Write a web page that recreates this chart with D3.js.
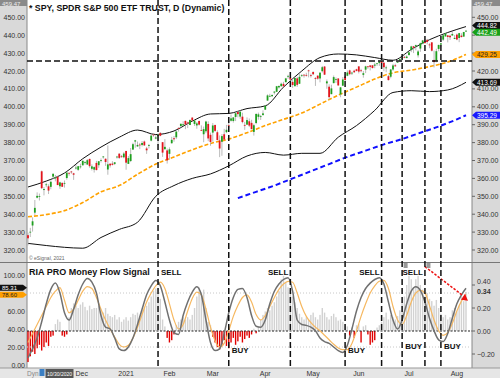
<!DOCTYPE html>
<html>
<head>
<meta charset="utf-8">
<script src="https://cdnjs.cloudflare.com/ajax/libs/d3/7.8.5/d3.min.js"></script>
<style>
body { margin: 0; background: #fff; }
svg { display: block; font-family: "Liberation Sans", Arial, sans-serif; }
</style>
</head>
<body>
<div id="chart"></div>
<script>
// daily SPY candles: date, open, high, low, close
const candles = [
["2020-10-30",328.28,329.69,322.60,326.54],["2020-11-02",330.20,332.36,327.24,330.20],["2020-11-03",333.69,338.25,330.29,336.03],
["2020-11-04",340.86,347.94,339.59,343.54],["2020-11-05",349.24,352.19,348.86,350.24],["2020-11-06",349.93,351.51,347.65,350.16],
["2020-11-09",363.97,364.38,354.06,354.56],["2020-11-10",353.49,355.18,350.51,354.04],["2020-11-11",356.40,357.56,355.06,356.67],
["2020-11-12",355.58,356.72,351.26,353.21],["2020-11-13",355.27,358.90,353.93,358.10],["2020-11-16",360.98,362.78,359.59,362.57],
["2020-11-17",359.97,361.92,358.34,360.62],["2020-11-18",360.91,361.50,356.24,356.28],["2020-11-19",355.60,358.18,354.15,357.78],
["2020-11-20",357.50,357.72,355.25,355.33],["2020-11-23",357.28,358.82,354.87,357.46],["2020-11-24",360.21,363.81,359.29,363.22],
["2020-11-25",363.13,363.16,361.48,362.66],["2020-11-27",363.84,364.18,362.58,363.67],["2020-11-30",362.83,363.12,359.17,362.06],
["2020-12-01",365.57,367.68,364.93,366.02],["2020-12-02",364.82,366.96,364.20,366.79],["2020-12-03",366.68,368.19,365.50,366.69],
["2020-12-04",367.32,369.85,367.22,369.85],["2020-12-07",369.02,369.62,367.72,369.09],["2020-12-08",367.72,370.78,367.67,370.17],
["2020-12-09",370.88,371.05,365.95,366.85],["2020-12-10",365.37,367.86,364.43,366.73],["2020-12-11",364.90,366.74,363.26,366.30],
["2020-12-14",368.64,369.80,364.47,364.66],["2020-12-15",367.40,369.59,365.92,369.59],["2020-12-16",369.82,371.16,368.87,370.17],
["2020-12-17",371.94,372.46,371.05,372.24],["2020-12-18",370.97,371.15,367.02,369.18],["2020-12-21",364.97,378.46,362.03,367.86],
["2020-12-22",368.21,368.33,366.03,367.24],["2020-12-23",368.28,369.62,367.22,367.57],["2020-12-24",368.08,369.03,367.45,369.00],
["2020-12-28",371.74,372.59,371.07,372.17],["2020-12-29",373.81,374.00,370.83,371.46],["2020-12-30",372.34,373.10,371.57,371.99],
["2020-12-31",371.78,374.66,371.23,373.88],["2021-01-04",375.31,375.45,364.82,368.79],["2021-01-05",368.10,372.50,368.05,371.33],
["2021-01-06",369.71,376.98,369.12,373.55],["2021-01-07",376.10,379.90,375.91,379.10],["2021-01-08",380.59,381.49,377.10,381.26],
["2021-01-11",377.85,380.58,377.72,378.69],["2021-01-12",378.89,379.86,376.36,378.77],["2021-01-13",378.69,380.86,377.85,379.79],
["2021-01-14",380.59,381.13,378.10,378.46],["2021-01-15",376.72,377.58,373.70,375.70],["2021-01-19",378.34,379.23,376.75,378.65],
["2021-01-20",381.11,384.79,380.69,383.89],["2021-01-21",384.49,384.95,383.25,384.24],["2021-01-22",382.25,384.13,381.84,382.88],
["2021-01-25",383.67,384.77,378.46,384.39],["2021-01-26",385.41,385.85,383.54,383.79],["2021-01-27",380.22,380.32,372.01,374.41],
["2021-01-28",376.36,381.93,375.89,377.63],["2021-01-29",375.63,376.67,368.27,370.07],["2021-02-01",373.72,377.34,370.38,376.23],
["2021-02-02",379.65,383.22,379.43,381.55],["2021-02-03",382.44,383.70,380.48,381.85],["2021-02-04",382.96,386.24,381.97,386.19],
["2021-02-05",388.20,388.47,386.14,387.71],["2021-02-08",389.27,390.56,388.35,390.51],["2021-02-09",389.61,391.89,389.42,390.25],
["2021-02-10",392.12,392.28,387.50,390.08],["2021-02-11",391.24,391.69,388.10,390.71],["2021-02-12",389.85,392.90,389.77,392.64],
["2021-02-16",393.96,394.17,391.53,392.30],["2021-02-17",390.42,392.66,389.33,392.39],["2021-02-18",389.59,391.52,387.74,390.72],
["2021-02-19",392.07,392.38,389.55,390.03],["2021-02-22",387.06,389.62,386.74,387.03],["2021-02-23",384.66,388.95,380.20,387.50],
["2021-02-24",386.33,392.23,385.27,391.77],["2021-02-25",390.41,391.88,380.78,382.33],["2021-02-26",384.35,385.58,378.23,380.36],
["2021-03-01",385.59,390.92,380.57,389.58],["2021-03-02",389.82,390.07,386.00,386.54],["2021-03-03",385.79,386.83,381.31,381.42],
["2021-03-04",381.22,384.00,371.88,376.70],["2021-03-05",380.46,384.76,372.64,383.63],["2021-03-08",384.66,387.68,381.42,381.72],
["2021-03-09",385.85,389.91,385.31,387.17],["2021-03-10",389.69,391.40,388.17,389.58],["2021-03-11",392.23,395.65,391.74,393.53],
["2021-03-12",392.07,394.21,391.20,394.06],["2021-03-15",394.33,396.69,392.03,396.41],["2021-03-16",397.07,397.83,394.11,395.91],
["2021-03-17",394.53,398.12,393.30,397.26],["2021-03-18",394.48,396.72,390.75,391.48],["2021-03-19",389.88,391.57,387.15,389.48],
["2021-03-22",390.03,394.07,389.97,392.59],["2021-03-23",391.91,393.46,388.66,389.50],["2021-03-24",391.00,392.75,387.47,387.52],
["2021-03-25",385.98,390.55,383.90,389.70],["2021-03-26",390.93,396.41,390.29,395.98],["2021-03-29",394.40,396.75,392.81,395.78],
["2021-03-30",394.42,395.45,392.65,394.73],["2021-03-31",395.34,398.00,395.31,396.33],["2021-04-01",398.40,400.67,398.18,400.61],
["2021-04-05",403.46,406.94,403.38,406.36],["2021-04-06",405.76,407.24,405.40,406.12],["2021-04-07",405.94,406.96,405.45,406.59],
["2021-04-08",407.93,408.58,406.93,408.52],["2021-04-09",408.39,411.67,408.26,411.49],["2021-04-12",410.85,411.93,410.20,411.64],
["2021-04-13",411.53,413.53,411.12,412.86],["2021-04-14",412.83,413.96,410.87,411.45],["2021-04-15",413.74,416.16,413.69,415.87],
["2021-04-16",417.25,417.91,415.73,417.26],["2021-04-19",416.26,416.74,413.79,415.21],["2021-04-20",413.91,415.09,410.59,412.17],
["2021-04-21",411.51,416.29,411.36,416.07],["2021-04-22",415.89,416.78,411.13,412.27],["2021-04-23",412.87,418.25,412.79,416.74],
["2021-04-26",417.44,418.22,416.81,417.61],["2021-04-27",417.93,418.14,416.30,417.52],["2021-04-28",417.81,419.01,416.90,417.40],
["2021-04-29",420.32,420.72,416.44,420.06],["2021-04-30",417.63,418.54,416.34,417.30],["2021-05-03",419.43,419.84,417.67,418.20],
["2021-05-04",416.07,416.60,411.67,415.62],["2021-05-05",417.38,417.63,415.15,415.75],["2021-05-06",415.83,419.21,413.68,419.07],
["2021-05-07",419.89,422.82,419.16,422.12],["2021-05-10",422.50,422.74,417.81,417.94],["2021-05-11",413.10,415.27,410.06,414.21],
["2021-05-12",411.23,412.59,404.00,405.41],["2021-05-13",407.07,412.35,407.02,410.28],["2021-05-14",413.21,417.49,413.18,416.58],
["2021-05-17",415.39,416.39,413.36,415.52],["2021-05-18",415.80,416.06,411.77,411.94],["2021-05-19",406.92,411.05,405.33,410.86],
["2021-05-20",411.80,416.63,411.67,415.28],["2021-05-21",416.87,418.20,414.45,414.94],["2021-05-24",417.34,420.32,417.08,419.17],
["2021-05-25",420.33,420.71,417.62,418.24],["2021-05-26",418.87,419.61,417.76,419.07],["2021-05-27",420.17,420.72,418.99,419.29],
["2021-05-28",420.97,421.25,419.79,420.04],["2021-06-01",422.57,422.72,418.63,419.67],["2021-06-02",420.37,421.23,419.29,420.33],
["2021-06-03",417.85,419.99,416.28,418.77],["2021-06-04",420.75,422.92,418.84,422.60],["2021-06-07",422.59,422.78,421.19,422.19],
["2021-06-08",423.11,423.21,420.32,422.28],["2021-06-09",423.18,423.26,421.41,421.65],["2021-06-10",422.96,424.63,421.55,423.61],
["2021-06-11",424.20,424.43,422.82,424.31],["2021-06-14",424.43,425.37,422.82,425.26],["2021-06-15",425.42,425.46,423.54,424.48],
["2021-06-16",424.63,424.87,419.92,422.11],["2021-06-17",421.67,423.02,419.32,421.97],["2021-06-18",417.09,417.83,414.70,414.92],
["2021-06-21",416.80,421.06,415.93,420.86],["2021-06-22",420.85,424.00,420.08,423.11],["2021-06-23",423.19,424.05,422.51,422.60],
["2021-06-24",424.89,425.55,424.62,425.10],["2021-06-25",425.90,427.09,425.55,426.61],["2021-06-28",427.17,427.65,425.89,427.47],
["2021-06-29",427.88,428.56,427.13,427.70],["2021-06-30",427.21,428.78,427.18,428.06],["2021-07-01",428.87,430.60,428.80,430.43],
["2021-07-02",431.67,434.10,430.52,433.72],["2021-07-06",433.78,434.01,430.01,432.93],["2021-07-07",433.66,434.76,431.51,434.46],
["2021-07-08",428.78,431.73,427.52,430.92],["2021-07-09",432.53,435.84,430.71,435.52],["2021-07-12",435.43,437.35,434.97,437.08],
["2021-07-13",436.24,437.84,435.31,435.59],["2021-07-14",437.40,437.92,434.91,436.24],["2021-07-15",434.81,435.53,432.72,434.75],
["2021-07-16",436.01,436.06,430.92,431.34],["2021-07-19",426.19,431.41,421.97,424.97],["2021-07-20",425.68,432.42,424.83,431.06],
["2021-07-21",432.34,434.70,431.01,434.55],["2021-07-22",434.74,435.72,433.69,435.46],["2021-07-23",437.52,440.30,436.79,439.94],
["2021-07-26",439.31,441.03,439.26,441.02],["2021-07-27",439.91,439.94,435.99,439.01],["2021-07-28",439.68,440.30,437.31,438.83],
["2021-07-29",439.82,441.80,439.81,440.65],["2021-07-30",437.91,440.06,437.77,438.51],["2021-08-02",440.34,440.93,437.21,437.59],
["2021-08-03",438.44,441.28,436.10,441.15],["2021-08-04",439.78,441.12,438.73,438.98],["2021-08-05",439.23,441.85,439.06,441.76],
["2021-08-06",442.10,442.94,441.80,442.49]
];

// Bollinger bands and moving averages at every 8th bar
const bandIdx = [0,8,16,24,32,40,48,56,64,72,80,88,96,104,112,120,128,136,144,152,160,168,176,184,192];
const upperBand = [355.2,358.5,363,371,377.5,383,387,384.5,386.5,392,396,396.3,399,400.5,411,420,427.5,429.5,429,427.5,426,432,437.5,441.5,444.82];
const lowerBand = [323.7,322.5,321.5,321,327,331.5,335.5,350,356,360,362.5,367,372.5,374.5,373,374,374,383,389.5,398,408,409,408.5,409.4,413.69];
const ma50 = [338.6,339.8,342,346.5,352.5,356,362.3,368,372,376,379.5,382,385.5,389.5,393,396.5,401.5,406.5,411,415.5,419,420.5,422.5,425,429.25];
const ma200Idx = [92,100,108,116,124,132,140,148,156,164,172,180,188,192];
const ma200 = [349,352.5,356,360,364,368,372,375.5,379,382,385.5,389,393,395.29];
const levelLine = 425.6;

// Money flow oscillator, every 2nd bar
const flowLine = [8,18,30,48,68,84,91,80,58,50,62,78,90,96,92,80,55,42,40,30,18,16,20,30,45,62,78,88,94,88,70,50,36,34,55,70,81,87,78,50,25,16,18,35,58,75,84,85,75,55,43,42,50,68,82,90,95,97,82,50,45,44,42,38,30,26,24,20,16,14,22,40,60,75,85,91,95,97,90,70,50,40,50,68,82,87,83,70,52,38,28,26,35,52,68,78,85.31];
const flowSignal = [25,35,45,55,65,75,82,86,72,58,62,72,82,87,85,75,62,50,40,31,23,20,22,30,42,56,70,80,88,92,85,68,50,40,45,60,74,81,78,62,42,27,20,24,38,54,66,75,78,70,56,50,55,65,75,84,90,93,92,80,65,54,47,42,38,33,28,23,19,17,17,24,38,54,68,80,88,93,94,85,65,50,45,55,70,80,83,80,66,50,38,33,36,46,60,71,78.6];
// histogram, one value per bar
const flowHist = [
-0.27,-0.22,-0.18,-0.2,-0.15,-0.12,-0.17,-0.14,-0.1,-0.13,-0.05,-0.04,
0.06,0.1,0.08,-0.04,-0.05,-0.03,
0.12,0.2,0.24,0.22,0.2,0.23,0.25,0.21,0.18,0.22,0.19,0.2,
0.2,0.22,0.18,0.16,0.2,0.15,0.13,0.12,0.14,0.1,0.12,0.08,0.1,0.12,0.09,
0.12,0.15,0.14,0.16,0.13,0.18,0.2,0.22,0.25,0.3,0.35,0.37,
0.33,0.28,0.1,0.04,
-0.06,-0.1,-0.08,-0.03,
0.05,0.08,0.1,0.12,0.1,0.12,0.1,0.14,0.2,0.3,0.38,0.33,0.36,0.2,0.08,0.05,
-0.05,-0.1,-0.14,-0.16,-0.12,-0.08,-0.13,-0.15,-0.1,-0.06,-0.12,-0.09,-0.05,-0.1,-0.07,-0.04,-0.06,
-0.03,0.02,-0.02,0.04,
0.1,0.14,0.17,0.2,0.18,0.22,0.25,0.3,0.35,0.45,0.48,0.42,0.38,0.36,0.3,0.25,0.2,0.15,0.12,0.1,0.12,
0.1,0.14,0.16,0.12,0.1,0.14,0.2,0.16,0.12,0.1,0.13,0.15,0.12,0.09,0.1,0.08,0.06,0.04,
-0.04,0.03,-0.06,0.05,0.06,-0.1,0.04,0.05,-0.03,-0.12,-0.1,-0.08,0.03,
0.05,0.08,0.12,0.16,0.1,0.14,0.12,0.1,0.13,
0.18,0.25,0.3,0.4,0.48,0.45,0.38,0.45,0.48,0.4,0.36,0.3,0.33,0.28,0.26,0.22,0.27,
0.2,0.15,0.12,0.14,0.1,0.12,0.18,0.2,0.17,0.22,0.3,0.26,0.34
];

const signals = [
["2021-01-25","SELL"],["2021-03-10","BUY"],["2021-04-19","SELL"],["2021-05-21","BUY"],
["2021-06-15","SELL"],["2021-06-28","BUY"],["2021-07-13","SELL"],["2021-07-22","BUY"]
];
const monthTicks = [["Dec","2020-12-01"],["2021","2021-01-04"],["Feb","2021-02-01"],["Mar","2021-03-01"],
["Apr","2021-04-01"],["May","2021-05-03"],["Jun","2021-06-01"],["Jul","2021-07-01"],["Aug","2021-08-02"]];
const priceTicks = [320,330,340,350,360,370,380,390,400,410,420,430,440,450];
const flowTicks = [0,20,40,60,80,100];
const histTicks = [-0.2,0,0.2,0.4];
const trendArrow = [["2021-07-13",0.56],["2021-08-06",0.29]];

const W = 500, H = 378;
const L = 27, R = 472;
const fmt = d3.format(".2f");
const dateIdx = new Map(candles.map((d, i) => [d[0], i]));

const svg = d3.select("#chart").append("svg").attr("width", W).attr("height", H);

const x = d3.scaleLinear().domain([0, candles.length - 1]).range([28, 466]);
const y = d3.scaleLinear().domain([320, 450]).range([250, 17.3]);
const yF = d3.scaleLinear().domain([0, 100]).range([365, 275]);
const yH = d3.scaleLinear().domain([-0.2, 0.4]).range([354, 285]);

// backgrounds
svg.append("rect").attr("width", W).attr("height", H).attr("fill", "#fff");
svg.append("rect").attr("x", 0).attr("y", 0).attr("width", L).attr("height", 368).attr("fill", "#d9d9d9");
svg.append("rect").attr("x", R).attr("y", 0).attr("width", W - R).attr("height", 368).attr("fill", "#d9d9d9");
svg.append("rect").attr("x", 0).attr("y", 368).attr("width", W).attr("height", 10).attr("fill", "#e6e6e6");
svg.append("line").attr("x1", L).attr("x2", L).attr("y1", 0).attr("y2", 368).attr("stroke", "#888");
svg.append("line").attr("x1", R).attr("x2", R).attr("y1", 0).attr("y2", 368).attr("stroke", "#888");
svg.append("line").attr("x1", 0).attr("x2", W).attr("y1", 262.5).attr("y2", 262.5).attr("stroke", "#777");
svg.append("line").attr("x1", 0).attr("x2", W).attr("y1", 368).attr("y2", 368).attr("stroke", "#999");

// bands and averages
const bandLine = d3.line().x(d => x(d[0])).y(d => y(d[1])).curve(d3.curveMonotoneX);
svg.append("path").attr("d", bandLine(bandIdx.map((i, k) => [i, upperBand[k]])))
    .attr("fill", "none").attr("stroke", "#111").attr("stroke-width", 1);
svg.append("path").attr("d", bandLine(bandIdx.map((i, k) => [i, lowerBand[k]])))
    .attr("fill", "none").attr("stroke", "#111").attr("stroke-width", 1);
svg.append("path").attr("d", bandLine(bandIdx.map((i, k) => [i, ma50[k]])))
    .attr("fill", "none").attr("stroke", "#ffa200").attr("stroke-width", 1.6).attr("stroke-dasharray", "4,2");
svg.append("path").attr("d", bandLine(ma200Idx.map((i, k) => [i, ma200[k]])))
    .attr("fill", "none").attr("stroke", "#1010ff").attr("stroke-width", 2).attr("stroke-dasharray", "5,3");

// candles
const cg = svg.append("g");
cg.selectAll("line").data(candles).join("line")
    .attr("x1", (d, i) => x(i)).attr("x2", (d, i) => x(i))
    .attr("y1", d => y(d[2])).attr("y2", d => y(d[3]))
    .attr("stroke", "#a8a8a8").attr("stroke-width", 0.8);
cg.selectAll("rect").data(candles).join("rect")
    .attr("x", (d, i) => x(i) - 0.9).attr("width", 1.8)
    .attr("y", d => y(Math.max(d[1], d[4])))
    .attr("height", d => Math.max(0.8, Math.abs(y(d[1]) - y(d[4]))))
    .attr("fill", d => d[4] >= d[1] ? "#1ea01e" : "#e4141c");

// money flow panel
const hw = 1.4;
svg.append("g").selectAll("rect").data(flowHist).join("rect")
    .attr("x", (d, i) => x(i) - hw / 2).attr("width", hw)
    .attr("y", d => Math.min(yH(d), yH(0)))
    .attr("height", d => Math.abs(yH(d) - yH(0)))
    .attr("fill", d => d < 0 ? "#e00000" : "#d2d2d2");
[80, 20].forEach(v => svg.append("line").attr("x1", L).attr("x2", R).attr("y1", yF(v)).attr("y2", yF(v))
    .attr("stroke", "#c8c8c8").attr("stroke-dasharray", "1,2"));
svg.append("line").attr("x1", L).attr("x2", R).attr("y1", yH(0)).attr("y2", yH(0))
    .attr("stroke", "#222").attr("stroke-width", 1.2).attr("stroke-dasharray", "2,1.5");

const oscLine = d3.line().x((d, k) => x(k * 2)).y(d => yF(d)).curve(d3.curveMonotoneX);
svg.append("path").attr("d", oscLine(flowSignal)).attr("fill", "none").attr("stroke", "#f6b860").attr("stroke-width", 1.2);
svg.append("path").attr("d", oscLine(flowLine)).attr("fill", "none").attr("stroke", "#707070").attr("stroke-width", 1.5);

// trend arrow
const a0 = [x(dateIdx.get(trendArrow[0][0])), yH(trendArrow[0][1])];
const a1 = [x(dateIdx.get(trendArrow[1][0])), yH(trendArrow[1][1])];
svg.append("line").attr("x1", a0[0]).attr("y1", a0[1]).attr("x2", a1[0] - 3).attr("y2", a1[1] - 2)
    .attr("stroke", "#ee1111").attr("stroke-width", 1.5).attr("stroke-dasharray", "2.5,1.5");
svg.append("path").attr("d", `M${a1[0] + 2},${a1[1] + 3} L${a1[0] - 5},${a1[1] + 2} L${a1[0] - 1},${a1[1] - 4} Z`).attr("fill", "#ee1111");

// level line and signal lines
svg.append("line").attr("x1", L).attr("x2", R).attr("y1", y(levelLine)).attr("y2", y(levelLine))
    .attr("stroke", "#111").attr("stroke-width", 1.5).attr("stroke-dasharray", "6,3");
const sg = svg.append("g");
signals.forEach((s, k) => {
    const sx = x(dateIdx.get(s[0]));
    sg.append("line").attr("x1", sx).attr("x2", sx).attr("y1", 0).attr("y2", 368)
        .attr("stroke", "#111").attr("stroke-width", 1.5).attr("stroke-dasharray", "6,3");
    const left = s[1] === "SELL" && k > 0;
    const ty = s[1] === "SELL" ? 275 : (k < 4 ? 353 : 349);
    sg.append("text").attr("x", left ? sx - 2 : sx + 3).attr("y", ty)
        .attr("text-anchor", left ? "end" : "start")
        .attr("font-size", 8).attr("font-weight", "bold").attr("fill", "#111").text(s[1]);
    if (k === 5 || k === 6) {
        sg.append("rect").attr("x", sx + 1.5).attr("y", 263).attr("width", 4).attr("height", 5).attr("fill", "#999");
    }
});

// value markers (drawn after the axes; axis labels they would cover are left out)
const last = candles[candles.length - 1];
const rightMarks = [
    [y(upperBand[upperBand.length - 1]) - 1, upperBand[upperBand.length - 1], "#111", "#fff"],
    [y(last[4]) + 1.5, last[4], "#18a018", "#fff"],
    [y(ma50[ma50.length - 1]), ma50[ma50.length - 1], "#ff9f00", "#222"],
    [y(lowerBand[lowerBand.length - 1]), lowerBand[lowerBand.length - 1], "#111", "#fff"],
    [y(ma200[ma200.length - 1]), ma200[ma200.length - 1], "#1a1aff", "#fff"]
];
const leftMarks = [
    [yF(flowLine[flowLine.length - 1]) - 0.5, flowLine[flowLine.length - 1], "#111", "#fff"],
    [yF(flowSignal[flowSignal.length - 1]) + 0.5, flowSignal[flowSignal.length - 1], "#ff9f00", "#222"]
];
const clear = (marks, yy) => marks.every(m => Math.abs(m[0] - yy) > 5.5);

// price axes
const axisText = (g, xx, yy, t, anchor) => g.append("text").attr("x", xx).attr("y", yy + 2.5)
    .attr("text-anchor", anchor).attr("font-size", 7).attr("fill", "#333").text(t);
const ax = svg.append("g");
priceTicks.forEach(v => {
    axisText(ax, 25, y(v), fmt(v), "end");
    ax.append("line").attr("x1", R).attr("x2", R + 3).attr("y1", y(v)).attr("y2", y(v)).attr("stroke", "#666");
    if (clear(rightMarks, y(v))) axisText(ax, 477, y(v), fmt(v), "start");
});
flowTicks.forEach(v => { if (clear(leftMarks, yF(v))) axisText(ax, 25, yF(v), fmt(v), "end"); });
histTicks.forEach(v => {
    ax.append("line").attr("x1", R).attr("x2", R + 3).attr("y1", yH(v)).attr("y2", yH(v)).attr("stroke", "#666");
    axisText(ax, 477, v === 0.4 ? yH(v) - 4 : yH(v), fmt(v), "start");
});

rightMarks.forEach(([yy, val, fill, color]) => {
    svg.append("path").attr("d", `M${R},${yy} L${R + 4},${yy - 3.5} L${W},${yy - 3.5} L${W},${yy + 3.5} L${R + 4},${yy + 3.5} Z`).attr("fill", fill);
    svg.append("text").attr("x", 477).attr("y", yy + 2.3).attr("font-size", 6.5).attr("fill", color).text(fmt(val));
});
leftMarks.forEach(([yy, val, fill, color]) => {
    svg.append("path").attr("d", `M0,${yy - 3} L${L - 4},${yy - 3} L${L},${yy} L${L - 4},${yy + 3} L0,${yy + 3} Z`).attr("fill", fill);
    svg.append("text").attr("x", 2).attr("y", yy + 2.2).attr("font-size", 6).attr("fill", color).text(fmt(val));
});
svg.append("text").attr("x", 477).attr("y", yH(flowHist[flowHist.length - 1]) + 2.5)
    .attr("font-size", 7).attr("font-weight", "bold").attr("fill", "#333").text(fmt(flowHist[flowHist.length - 1]));

// top max boxes
const maxHigh = 459.47;
[[0, L], [R, W]].forEach(([a, b]) => {
    svg.append("rect").attr("x", a).attr("y", 0).attr("width", b - a).attr("height", 6).attr("fill", "#8a8a8a");
    svg.append("text").attr("x", a + 2).attr("y", 5.5).attr("font-size", 6).attr("fill", "#eee").text(fmt(maxHigh));
});

// titles
svg.append("text").attr("x", 29).attr("y", 11).attr("font-size", 8.8).attr("font-weight", "bold")
    .attr("fill", "#111").text("* SPY, SPDR S&P 500 ETF TRUST, D (Dynamic)");
svg.append("text").attr("x", 29).attr("y", 260).attr("font-size", 5).attr("fill", "#666").text("\u00a9 eSignal, 2021");
svg.append("text").attr("x", 29).attr("y", 274.5).attr("font-size", 9).attr("font-weight", "bold")
    .attr("fill", "#111").text("RIA PRO Money Flow Signal");

// date axis
monthTicks.forEach((m, k) => {
    svg.append("text").attr("x", k === 0 ? 75.5 : x(dateIdx.get(m[1])))
        .attr("y", 376).attr("text-anchor", k === 0 ? "start" : "middle")
        .attr("font-size", 7).attr("fill", "#333").text(m[0]);
});
svg.append("text").attr("x", 27).attr("y", 376).attr("font-size", 6.5).attr("fill", "#888").text("Dyn");
svg.append("rect").attr("x", 39.5).attr("y", 369).attr("width", 5).attr("height", 7).attr("fill", "#3b7fc4");
svg.append("rect").attr("x", 45.5).attr("y", 369).attr("width", 28).attr("height", 9).attr("fill", "#555");
svg.append("text").attr("x", 47).attr("y", 376).attr("font-size", 6).attr("fill", "#fff")
    .attr("textLength", 25).attr("lengthAdjust", "spacingAndGlyphs").text("10/30/2020");
</script>
</body>
</html>
